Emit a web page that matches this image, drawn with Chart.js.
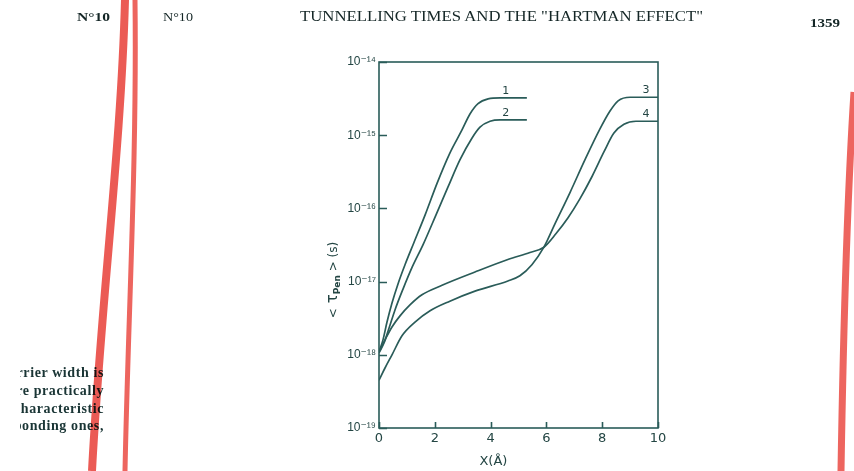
<!DOCTYPE html>
<html>
<head>
<meta charset="utf-8">
<script src="https://cdn.jsdelivr.net/npm/chart.js@4.4.0/dist/chart.umd.min.js"></script>
<style>
html,body{margin:0;padding:0;background:#fff;}
#page{position:relative;width:854px;height:471px;overflow:hidden;background:#fff;}
#c{position:absolute;left:0;top:0;}
.hd{position:absolute;font-family:"Liberation Serif",serif;color:#142626;white-space:nowrap;line-height:1;transform-origin:0 0;}
#side{position:absolute;left:20px;top:364px;width:84px;overflow:hidden;font-family:"Liberation Serif",serif;font-weight:bold;font-size:14px;letter-spacing:0.6px;color:#1a3535;}
#side div{position:relative;height:17.8px;}
#side span{position:absolute;right:0;top:0;white-space:nowrap;line-height:17.8px;}
#stripes{position:absolute;left:0;top:0;pointer-events:none;mix-blend-mode:multiply;}
</style>
</head>
<body>
<div id="page">
<canvas id="c" width="854" height="471"></canvas>
<div class="hd" id="h1" data-w="33" style="left:77px;top:10px;font-size:13px;font-weight:bold">N°10</div>
<div class="hd" id="h2" data-w="30" style="left:163px;top:10px;font-size:13px">N°10</div>
<div class="hd" id="h3" data-w="403" style="left:300px;top:10px;font-size:14px">TUNNELLING TIMES AND THE "HARTMAN EFFECT"</div>
<div class="hd" id="h4" data-w="30" style="left:810px;top:16px;font-size:13px;font-weight:bold">1359</div>
<div id="side">
  <div><span>barrier width is</span></div>
  <div><span>are practically</span></div>
  <div><span>characteristic</span></div>
  <div><span>corresponding ones,</span></div>
</div>
<svg id="stripes" width="854" height="471">
  <path d="M125,0 C121,150 101,300 92,471" stroke="rgba(232,62,55,0.85)" stroke-width="8" fill="none"/>
  <path d="M135,0 C137,160 128,320 125,471" stroke="rgba(232,62,55,0.8)" stroke-width="5" fill="none"/>
  <path d="M854,92 C847,200 843,350 841,471" stroke="rgba(232,62,55,0.8)" stroke-width="7" fill="none"/>
</svg>
</div>
<script>
// ---- data ----
const xTickValues = [0, 2, 4, 6, 8, 10];
const xTickLabels = ['0', '2', '4', '6', '8', '10'];
const yTickValues = [1e-19, 1e-18, 1e-17, 1e-16, 1e-15, 1e-14];
const yTickLabels = ['10⁻¹⁹', '10⁻¹⁸', '10⁻¹⁷', '10⁻¹⁶', '10⁻¹⁵', '10⁻¹⁴'];
const curveNames = ['1', '2', '3', '4'];

const curve1X = [0, 0.143, 0.287, 0.466, 0.681, 0.932, 1.25, 1.65, 2.08, 2.54, 2.97, 3.26, 3.55, 3.91, 4.34, 5.3];
const curve1Y = [1.1e-18, 1.6e-18, 2.8e-18, 5.1e-18, 9.3e-18, 1.7e-17, 3.4e-17, 8.1e-17, 2.2e-16, 5.7e-16, 1.17e-15, 1.95e-15, 2.7e-15, 3.13e-15, 3.23e-15, 3.23e-15];

const curve2X = [0, 0.179, 0.358, 0.573, 0.86, 1.18, 1.58, 2.04, 2.47, 2.90, 3.33, 3.62, 3.98, 4.34, 5.3];
const curve2Y = [1.06e-18, 1.45e-18, 2.3e-18, 4.1e-18, 7.9e-18, 1.55e-17, 3.2e-17, 8.1e-17, 1.95e-16, 4.6e-16, 9.1e-16, 1.29e-15, 1.55e-15, 1.62e-15, 1.62e-15];

const curve3X = [0, 0.215, 0.466, 0.824, 1.29, 1.83, 2.54, 3.44, 4.62, 5.05, 5.48, 5.91, 6.31, 6.85, 7.38, 7.92, 8.28, 8.57, 9.0, 10];
const curve3Y = [4.5e-19, 6.6e-19, 1.0e-18, 1.82e-18, 2.8e-18, 4.0e-18, 5.4e-18, 7.4e-18, 1.02e-17, 1.2e-17, 1.7e-17, 2.95e-17, 6.2e-17, 1.66e-16, 4.6e-16, 1.22e-15, 2.14e-15, 2.95e-15, 3.3e-15, 3.3e-15];

const curve4X = [0, 0.215, 0.466, 0.753, 1.11, 1.54, 2.26, 3.44, 4.62, 5.41, 5.91, 6.34, 6.77, 7.20, 7.64, 8.07, 8.42, 8.78, 9.21, 10];
const curve4Y = [1.1e-18, 1.6e-18, 2.4e-18, 3.4e-18, 4.8e-18, 6.6e-18, 8.9e-18, 1.35e-17, 2.0e-17, 2.5e-17, 2.95e-17, 4.5e-17, 7.4e-17, 1.35e-16, 2.75e-16, 6.0e-16, 1.07e-15, 1.41e-15, 1.55e-15, 1.55e-15];

const xTitle = 'X(Å)';
// -----------------------------------

const INK = '#2a5c59';
const TEXT = '#244644';

function pts(xs, ys) { return xs.map((v, i) => ({ x: v, y: ys[i] })); }

// fit header texts to the widths they have on the page
document.querySelectorAll('.hd').forEach(el => {
  const w = el.getBoundingClientRect().width;
  const target = +el.dataset.w;
  if (w > 0) el.style.transform = 'scaleX(' + (target / w) + ')';
});

const framePlugin = {
  id: 'frame',
  afterDatasetsDraw(chart) {
    const { ctx, chartArea: a, scales: { x, y } } = chart;
    ctx.save();
    ctx.strokeStyle = INK;
    ctx.lineWidth = 1.6;
    ctx.strokeRect(a.left, a.top, a.right - a.left, a.bottom - a.top);
    ctx.beginPath();
    yTickValues.forEach(v => {
      const py = Math.round(y.getPixelForValue(v)) + 0.5;
      ctx.moveTo(a.left, py); ctx.lineTo(a.left + 8, py);
    });
    xTickValues.forEach(v => {
      const px = Math.round(x.getPixelForValue(v)) + 0.5;
      ctx.moveTo(px, a.bottom); ctx.lineTo(px, a.bottom - 6);
    });
    ctx.stroke();

    // curve numbers
    ctx.fillStyle = TEXT;
    ctx.font = '11px "DejaVu Sans"';
    ctx.textAlign = 'center';
    ctx.textBaseline = 'middle';
    chart.data.datasets.forEach((ds, i) => {
      const last = ds.data[ds.data.length - 1];
      const off = last.x >= 10 ? 12 : 21;
      const px = x.getPixelForValue(last.x) - off;
      const py = y.getPixelForValue(last.y) - 7;
      ctx.fillText(curveNames[i], px, py);
    });

    // x title
    ctx.font = '13px "DejaVu Sans"';
    ctx.textBaseline = 'alphabetic';
    ctx.fillText(xTitle, a.left + (a.right - a.left) * 0.41, 465);

    // y title <τ_Pen> (s), rotated
    const parts = [
      { t: '<', f: '12px "DejaVu Sans"', dy: 0 },
      { t: ' τ', f: '15px "DejaVu Sans"', dy: 0 },
      { t: 'Pen', f: 'bold 9px "DejaVu Sans"', dy: 3 },
      { t: ' > (s)', f: '12px "DejaVu Sans"', dy: 0 }
    ];
    let total = 0;
    parts.forEach(p => { ctx.font = p.f; p.w = ctx.measureText(p.t).width; total += p.w; });
    ctx.translate(a.left - 46, (a.top + a.bottom) / 2 + 35);
    ctx.rotate(-Math.PI / 2);
    ctx.textAlign = 'left';
    let cx = -total / 2;
    parts.forEach(p => { ctx.font = p.f; ctx.fillText(p.t, cx, 4 + p.dy); cx += p.w; });
    ctx.restore();
  }
};

const datasets = [
  pts(curve1X, curve1Y), pts(curve2X, curve2Y), pts(curve3X, curve3Y), pts(curve4X, curve4Y)
].map((d, i) => ({
  label: curveNames[i],
  data: d,
  borderColor: INK,
  borderWidth: 1.7,
  pointRadius: 0,
  fill: false,
  cubicInterpolationMode: 'monotone'
}));

new Chart(document.getElementById('c'), {
  type: 'line',
  data: { datasets },
  options: {
    responsive: false,
    animation: false,
    devicePixelRatio: 1,
    layout: { padding: { left: 329, right: 196, top: 62, bottom: 18 } },
    plugins: { legend: { display: false }, tooltip: { enabled: false } },
    scales: {
      x: {
        type: 'linear', min: 0, max: 10,
        grid: { display: false, drawTicks: false },
        border: { display: false },
        afterBuildTicks: s => { s.ticks = xTickValues.map(v => ({ value: v })); },
        afterFit: s => { s.height = 25; },
        ticks: {
          color: TEXT, padding: 3, maxRotation: 0, autoSkip: false,
          font: { family: 'DejaVu Sans', size: 13 },
          callback: (v, i) => xTickLabels[i]
        }
      },
      y: {
        type: 'logarithmic', min: 1e-19, max: 1e-14,
        grid: { display: false, drawTicks: false },
        border: { display: false },
        afterBuildTicks: s => { s.ticks = yTickValues.map(v => ({ value: v })); },
        afterFit: s => { s.width = 50; },
        ticks: {
          color: TEXT, padding: 3, autoSkip: false,
          font: { family: '"Liberation Sans", "DejaVu Sans"', size: 12 },
          callback: (v, i) => yTickLabels[i]
        }
      }
    }
  },
  plugins: [framePlugin]
});
</script>
</body>
</html>
